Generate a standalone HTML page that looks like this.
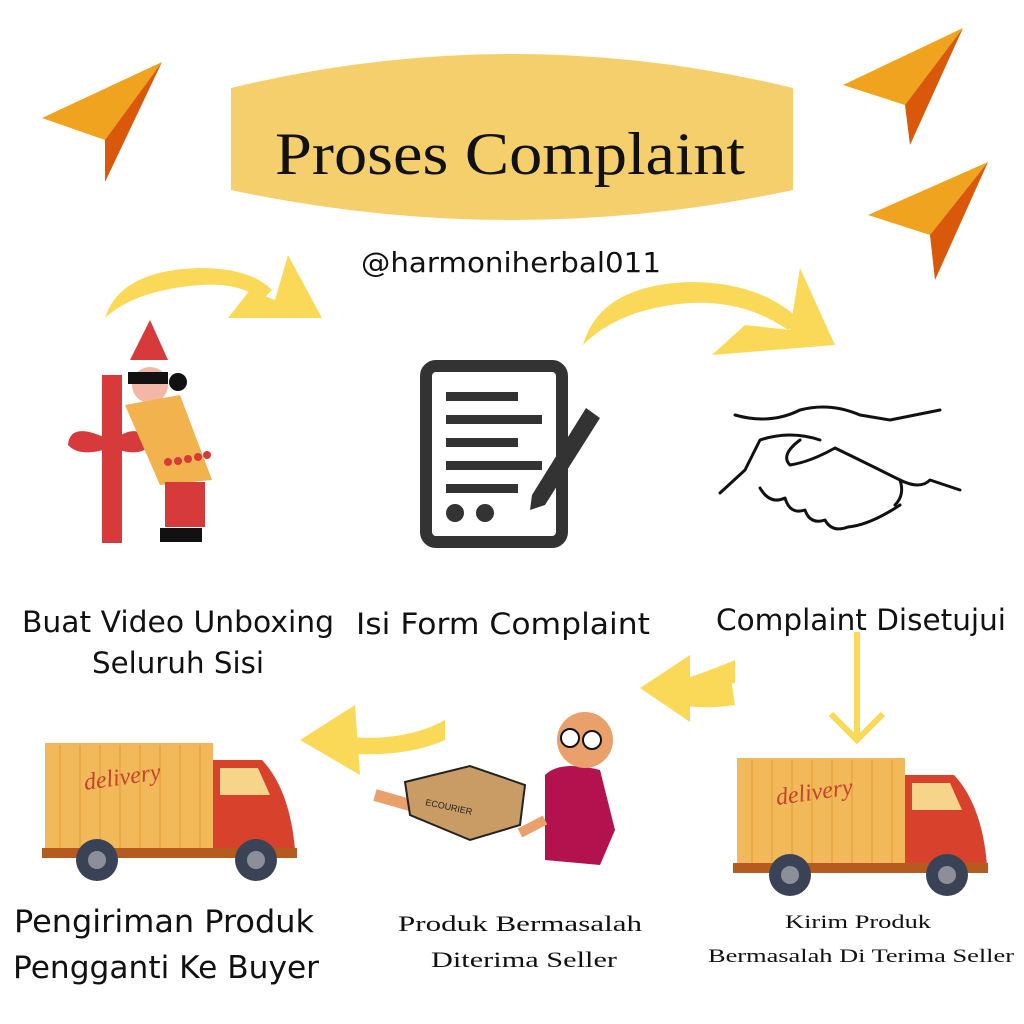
<!DOCTYPE html>
<html><head><meta charset="utf-8"><style>
body{margin:0;background:#fff}
svg{display:block}
.s{font-family:"DejaVu Sans","Liberation Sans",sans-serif;fill:#111}
.r{font-family:"Liberation Serif","DejaVu Serif",serif;fill:#111}
</style></head><body>
<svg width="1024" height="1024" viewBox="0 0 1024 1024" xmlns="http://www.w3.org/2000/svg">
<rect width="1024" height="1024" fill="#fff"/>
<!-- paper planes -->
<g>
<polygon points="42,118 162,62 105,140" fill="#F0A31E"/><polygon points="162,62 105,140 105,182" fill="#D9580A"/>
<polygon points="843,85 963,28 905,105" fill="#F0A31E"/><polygon points="963,28 905,105 910,145" fill="#D9580A"/>
<polygon points="868,215 988,162 930,235" fill="#F0A31E"/><polygon points="988,162 930,235 935,280" fill="#D9580A"/>
</g>
<!-- banner -->
<path d="M231,88 Q512,20 793,88 L793,190 Q512,250 231,190 Z" fill="#F4CF6C"/>
<text x="510" y="174" text-anchor="middle" font-family="'Liberation Serif',serif" font-size="60" fill="#111" textLength="470" lengthAdjust="spacingAndGlyphs">Proses Complaint</text>
<text x="511" y="272" text-anchor="middle" class="s" font-size="28" textLength="300" lengthAdjust="spacingAndGlyphs">@harmoniherbal011</text>
<!-- yellow arrows -->
<g fill="#FBD958">
<path d="M105,318 Q120,270 200,268 Q250,268 272,290 L262,300 Q240,282 200,285 Q135,290 105,318 Z"/>
<polygon points="288,255 322,318 228,318 250,290 275,300"/>
<path d="M583,345 Q600,285 690,282 Q760,282 800,320 L788,330 Q745,300 690,303 Q620,308 583,345 Z"/>
<polygon points="800,268 835,345 712,355 745,325 790,330"/>
<path d="M735,660 Q700,675 650,690 L660,700 Q700,690 735,683 Z"/>
<path d="M730,672 Q690,695 655,698 Q690,712 735,705 Z"/>
<polygon points="640,688 690,655 690,722"/>
<path d="M445,720 Q400,745 330,735 L330,752 Q400,760 445,740 Z"/>
<polygon points="300,740 355,705 360,775"/>
</g>
<!-- down arrow -->
<line x1="857" y1="632" x2="857" y2="738" stroke="#FBD958" stroke-width="6"/>
<polyline points="831,714 857,740 883,714" fill="none" stroke="#FBD958" stroke-width="6"/>
<!-- woman with gift -->
<g>
<rect x="102" y="375" width="20" height="168" fill="#D73A3A"/>
<path d="M110,440 Q70,420 68,445 Q80,458 110,448 Z" fill="#D73A3A"/>
<path d="M113,440 Q140,420 150,445 Q140,458 113,448 Z" fill="#D73A3A"/>
<polygon points="150,320 130,360 168,360" fill="#D73A3A"/>
<circle cx="150" cy="385" r="18" fill="#F3B7A7"/>
<rect x="128" y="372" width="40" height="12" fill="#111"/>
<circle cx="178" cy="382" r="9" fill="#111"/>
<path d="M125,405 L180,395 L212,480 L160,485 Z" fill="#F2B24E"/>
<rect x="165" y="482" width="40" height="45" fill="#D73A3A"/>
<rect x="160" y="528" width="42" height="14" fill="#111"/>
<g fill="#D73A3A"><circle cx="168" cy="462" r="4"/><circle cx="178" cy="461" r="4"/><circle cx="188" cy="459" r="4"/><circle cx="198" cy="457" r="4"/><circle cx="207" cy="455" r="4"/></g>
</g>
<!-- document -->
<g>
<rect x="426" y="366" width="136" height="176" rx="10" fill="none" stroke="#333" stroke-width="12"/>
<g fill="#333"><rect x="446" y="392" width="72" height="9"/><rect x="446" y="415" width="96" height="9"/><rect x="446" y="438" width="72" height="9"/><rect x="446" y="461" width="96" height="9"/><rect x="446" y="484" width="72" height="9"/>
<circle cx="455" cy="513" r="9"/><circle cx="485" cy="513" r="9"/>
<polygon points="586,408 600,418 545,505 530,510 532,495"/></g>
</g>
<!-- handshake -->
<g fill="none" stroke="#111" stroke-width="3" stroke-linecap="round" stroke-linejoin="round">
<path d="M735,415 Q770,425 800,410 Q830,402 860,415 L890,420 Q915,415 940,410"/>
<path d="M720,493 L745,470 L760,440 Q790,430 820,440"/>
<path d="M800,440 Q780,455 790,465 Q810,462 835,448 Q870,465 900,480 Q920,490 930,480 L960,490"/>
<path d="M760,488 Q770,505 785,498 Q790,515 805,510 Q810,525 825,520 Q832,533 848,527 Q870,525 900,505"/>
<path d="M900,480 Q905,495 895,505"/>
</g>
<!-- person with box -->
<g>
<path d="M545,775 Q560,760 600,770 L615,830 L600,865 L545,860 Z" fill="#B3124F"/>
<circle cx="585" cy="740" r="28" fill="#E9A06A"/>
<circle cx="570" cy="738" r="9" fill="#fff" stroke="#111" stroke-width="2"/><circle cx="592" cy="740" r="9" fill="#fff" stroke="#111" stroke-width="2"/>
<path d="M520,833 L545,820" stroke="#E9A06A" stroke-width="10"/>
<path d="M375,795 L410,805" stroke="#E9A06A" stroke-width="12"/>
<polygon points="405,782 470,766 525,785 520,825 470,840 410,815" fill="#C89C64" stroke="#222" stroke-width="2"/>
<text x="425" y="805" font-family="Liberation Sans,sans-serif" font-size="9" fill="#222" transform="rotate(12 425 805)">ECOURIER</text>
</g>
<!-- trucks -->
<g>
<rect x="45" y="743" width="168" height="107" fill="#F2B95A"/>
<g stroke="#E8A640" stroke-width="1.5"><line x1="60" y1="745" x2="60" y2="848"/><line x1="80" y1="745" x2="80" y2="848"/><line x1="100" y1="745" x2="100" y2="848"/><line x1="120" y1="745" x2="120" y2="848"/><line x1="140" y1="745" x2="140" y2="848"/><line x1="160" y1="745" x2="160" y2="848"/><line x1="180" y1="745" x2="180" y2="848"/><line x1="200" y1="745" x2="200" y2="848"/></g>
<text x="85" y="790" font-family="Liberation Serif,serif" font-style="italic" font-size="24" fill="#C8412B" transform="rotate(-8 85 790)">delivery</text>
<path d="M213,760 L262,760 Q290,790 295,850 L213,850 Z" fill="#D8412B"/>
<path d="M220,768 L258,768 L270,795 L220,795 Z" fill="#F6D58A"/>
<rect x="42" y="848" width="255" height="10" fill="#B55B1F"/>
<circle cx="97" cy="860" r="21" fill="#3A4356"/><circle cx="97" cy="860" r="9" fill="#8C8F99"/>
<circle cx="256" cy="860" r="21" fill="#3A4356"/><circle cx="256" cy="860" r="9" fill="#8C8F99"/>
</g>
<g transform="translate(692,15)">
<rect x="45" y="743" width="168" height="107" fill="#F2B95A"/>
<g stroke="#E8A640" stroke-width="1.5"><line x1="60" y1="745" x2="60" y2="848"/><line x1="80" y1="745" x2="80" y2="848"/><line x1="100" y1="745" x2="100" y2="848"/><line x1="120" y1="745" x2="120" y2="848"/><line x1="140" y1="745" x2="140" y2="848"/><line x1="160" y1="745" x2="160" y2="848"/><line x1="180" y1="745" x2="180" y2="848"/><line x1="200" y1="745" x2="200" y2="848"/></g>
<text x="85" y="790" font-family="Liberation Serif,serif" font-style="italic" font-size="24" fill="#C8412B" transform="rotate(-8 85 790)">delivery</text>
<path d="M213,760 L262,760 Q290,790 295,850 L213,850 Z" fill="#D8412B"/>
<path d="M220,768 L258,768 L270,795 L220,795 Z" fill="#F6D58A"/>
<rect x="41" y="848" width="255" height="10" fill="#B55B1F"/>
<circle cx="98" cy="860" r="21" fill="#3A4356"/><circle cx="98" cy="860" r="9" fill="#8C8F99"/>
<circle cx="255" cy="860" r="21" fill="#3A4356"/><circle cx="255" cy="860" r="9" fill="#8C8F99"/>
</g>
<!-- labels -->
<text x="178" y="632" text-anchor="middle" class="s" font-size="29" textLength="312" lengthAdjust="spacingAndGlyphs">Buat Video Unboxing</text>
<text x="178" y="673" text-anchor="middle" class="s" font-size="29" textLength="172" lengthAdjust="spacingAndGlyphs">Seluruh Sisi</text>
<text x="503" y="634" text-anchor="middle" class="s" font-size="29" textLength="294" lengthAdjust="spacingAndGlyphs">Isi Form Complaint</text>
<text x="861" y="630" text-anchor="middle" class="s" font-size="29" textLength="290" lengthAdjust="spacingAndGlyphs">Complaint Disetujui</text>
<text x="164" y="932" text-anchor="middle" class="s" font-size="31" textLength="300" lengthAdjust="spacingAndGlyphs">Pengiriman Produk</text>
<text x="166" y="978" text-anchor="middle" class="s" font-size="31" textLength="306" lengthAdjust="spacingAndGlyphs">Pengganti Ke Buyer</text>
<text x="520" y="931" text-anchor="middle" class="r" font-size="22" textLength="244" lengthAdjust="spacingAndGlyphs">Produk Bermasalah</text>
<text x="524" y="967" text-anchor="middle" class="r" font-size="22" textLength="186" lengthAdjust="spacingAndGlyphs">Diterima Seller</text>
<text x="858" y="928" text-anchor="middle" class="r" font-size="19" textLength="146" lengthAdjust="spacingAndGlyphs">Kirim Produk</text>
<text x="861" y="962" text-anchor="middle" class="r" font-size="19" textLength="306" lengthAdjust="spacingAndGlyphs">Bermasalah Di Terima Seller</text>
</svg>
</body></html>
